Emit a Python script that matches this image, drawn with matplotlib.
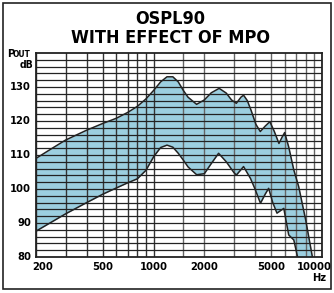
import matplotlib
matplotlib.use("Agg")
import matplotlib.pyplot as plt
from matplotlib.patches import Rectangle
import numpy as np

# upper curve (max output), Hz / dB
up_f = [200, 250, 300, 400, 500, 600, 700, 800, 900, 1000, 1100, 1200, 1300,
        1400, 1500, 1600, 1800, 2000, 2200, 2450, 2700, 2900, 3100, 3300, 3420,
        3600, 3800, 4050, 4300, 4600, 4900, 5200, 5550, 5800, 6000, 6340, 6800,
        7270, 8000, 8770]
up_db = [109.0, 112.0, 114.4, 117.3, 119.3, 120.8, 122.5, 124.3, 126.5, 129.0,
         131.5, 133.0, 133.0, 131.5, 129.0, 127.0, 124.9, 126.2, 128.3, 129.6,
         128.2, 126.2, 125.2, 127.0, 127.6, 126.0, 123.0, 119.0, 116.9, 118.5,
         119.8, 117.0, 113.4, 115.3, 116.6, 112.4, 105.6, 100.7, 90.9, 80.0]

# lower curve
lo_f = [200, 300, 400, 500, 600, 700, 800, 900, 1000, 1100, 1200, 1300, 1400,
        1500, 1600, 1800, 2000, 2200, 2430, 2700, 3000, 3100, 3420, 3760, 4000,
        4310, 4600, 4820, 5100, 5400, 5930, 6340, 6800, 7160]
lo_db = [87.6, 92.7, 96.0, 98.5, 100.3, 101.8, 103.0, 105.5, 109.5, 112.2,
         112.9, 112.3, 110.5, 108.5, 106.5, 104.2, 104.5, 107.5, 110.5, 108.0,
         104.8, 104.1, 106.6, 103.1, 100.0, 95.8, 98.5, 100.2, 96.0, 92.9, 94.3,
         86.5, 85.0, 80.0]

x_labels = [200, 500, 1000, 2000, 5000, 10000]
y_labels = [80, 90, 100, 110, 120, 130]
vgrid = [200, 300, 400, 500, 600, 700, 800, 900, 1000, 1500,
         2000, 3000, 4000, 5000, 6000, 7000, 8000, 9000, 10000]

fill_col = "#9ccfe0"
plt.rcParams["font.family"] = ["Liberation Sans", "DejaVu Sans"]
cond = dict(family="DejaVu Sans", stretch="condensed", fontweight="bold")

fig = plt.figure(figsize=(3.34, 2.93), dpi=100)
ax = fig.add_axes([36/334, 36/293, 286/334, 204/293])
ax.set_xscale("log")
ax.set_xlim(200, 10000)
ax.set_ylim(80, 140)

# band between the two curves
ff = np.array(sorted(set(up_f + lo_f)))
u = np.interp(np.log(ff), np.log(up_f), up_db)
l = np.interp(np.log(ff), np.log(lo_f), lo_db, right=80)
ax.fill_between(ff, l, u, color=fill_col, lw=0, zorder=1)

for f in vgrid:
    c = "#333333" if f <= 1000 else "#666666"
    ax.axvline(f, color=c, lw=1.0, zorder=2)
for d in range(82, 140, 2):
    ax.axhline(d, color="#222222", lw=0.9, zorder=2)

ax.plot(up_f, up_db, color="#222222", lw=1.1, zorder=3)
ax.plot(lo_f, lo_db, color="#222222", lw=1.1, zorder=3)

ax.set_xticks([])
ax.set_yticks([])
ax.minorticks_off()
for s in ax.spines.values():
    s.set_linewidth(1.3)
    s.set_color("#222222")

for v in y_labels:
    ax.text(-0.017, (v - 80) / 60, str(v), transform=ax.transAxes,
            ha="right", va="center", fontsize=8, **cond)
xoffs = {200: 7, 10000: -7.5}
for v in x_labels:
    xa = ax.transAxes.inverted().transform(ax.transData.transform((v, 80)))[0]
    xa += xoffs.get(v, 0) / 286
    ax.text(xa, -0.05, str(v), transform=ax.transAxes,
            ha="center", va="center", fontsize=8, **cond)
fig.text(319/334, 1 - 278/293, "Hz", ha="center", va="center",
         fontsize=8, **cond)

fig.text(0.51, 1 - 19/293, "OSPL90", ha="center", va="center",
         fontsize=13, **cond)
fig.text(0.51, 1 - 38/293, "WITH EFFECT OF MPO", ha="center", va="center",
         fontsize=13, **cond)
fig.text(7/334, 1 - 57/293, "P", ha="left", va="baseline",
         fontsize=8, **cond)
fig.text(13/334, 1 - 57/293, "OUT", ha="left", va="baseline",
         fontsize=6, **cond)
fig.text(33/334, 1 - 68/293, "dB", ha="right", va="baseline",
         fontsize=7.5, **cond)

fig.patches.append(Rectangle((3/334, 4/293), 328/334, 286/293,
                             transform=fig.transFigure, fill=False,
                             ec="#222222", lw=1.2))

fig.savefig("out.png", dpi=100)
